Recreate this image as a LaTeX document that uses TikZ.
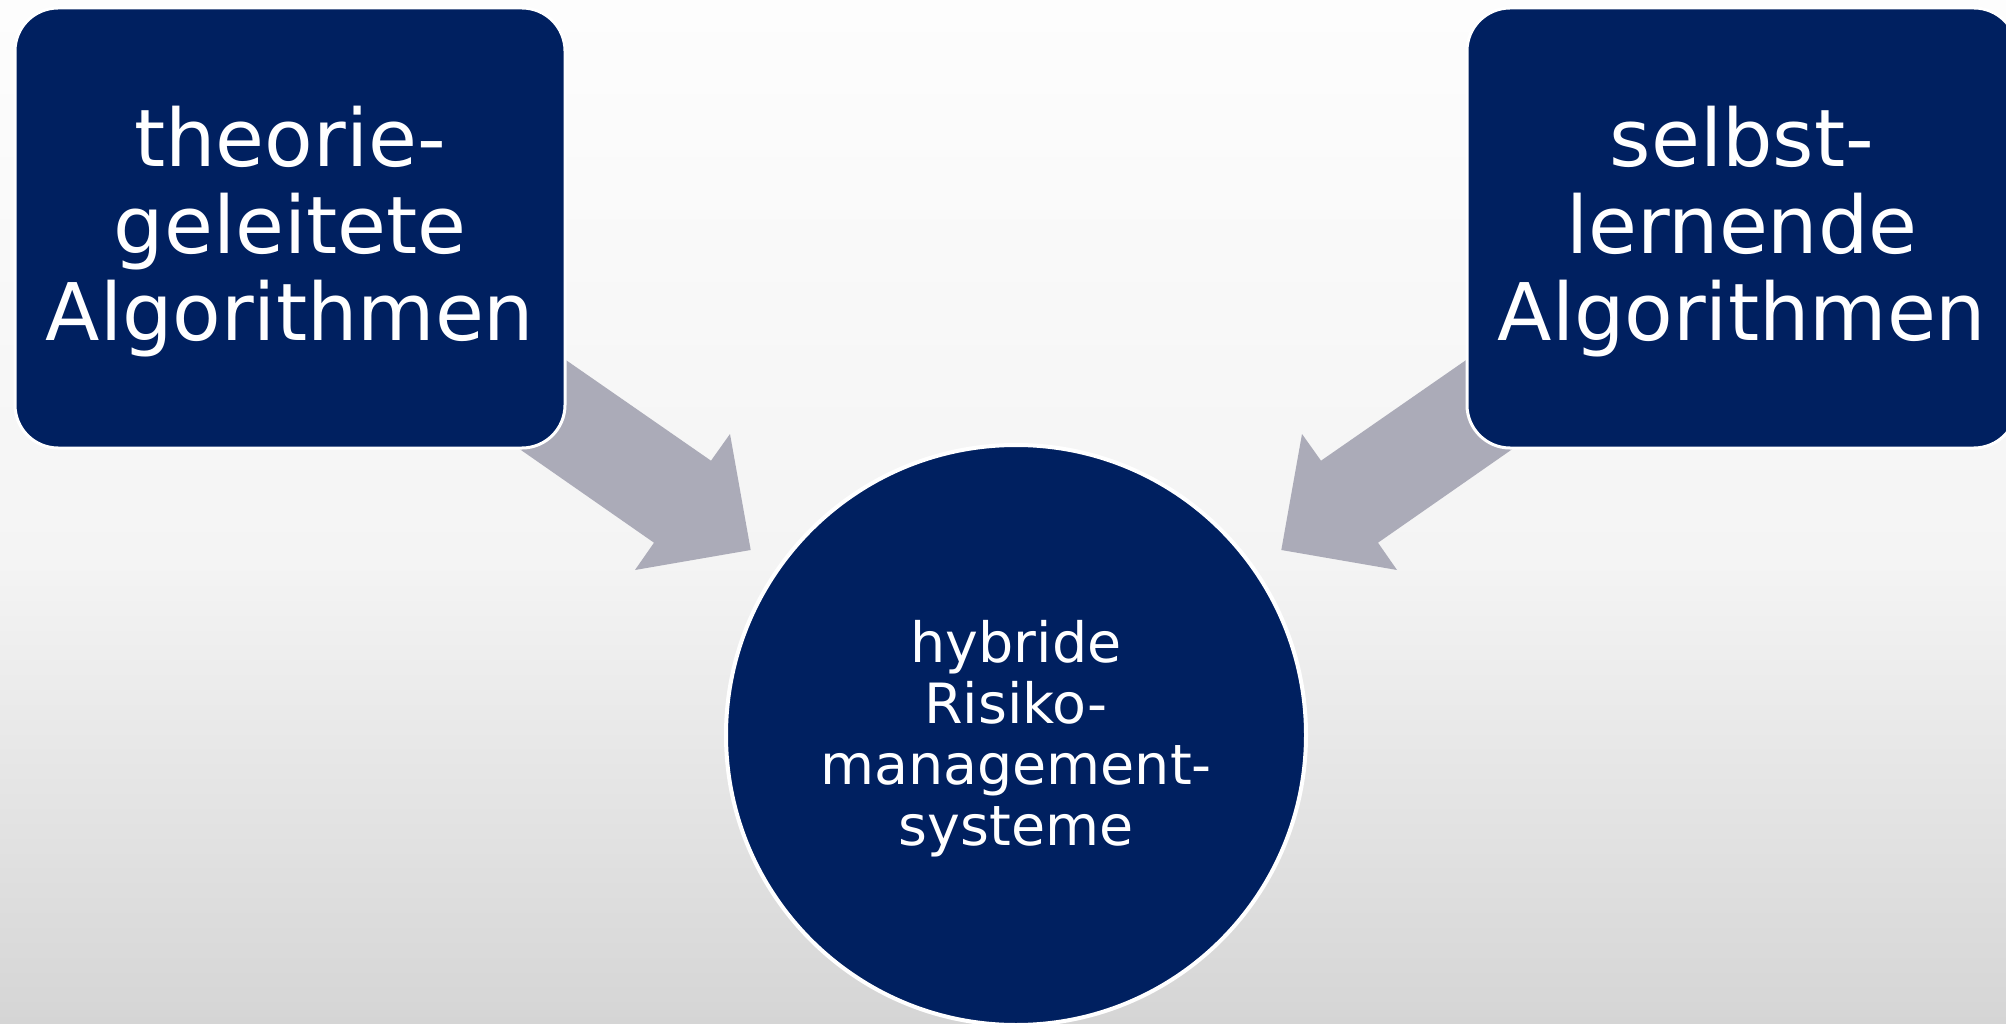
\documentclass[tikz,border=0pt]{standalone}
\usepackage{fontspec}
\setmainfont{DejaVu Sans}
\definecolor{navy}{RGB}{0,32,96}
\definecolor{arrowgray}{RGB}{171,171,184}
\definecolor{bgtop}{RGB}{253,253,253}
\definecolor{bgmid}{RGB}{244,244,244}
\definecolor{bgbot}{RGB}{213,213,213}
\pgfdeclareverticalshading{bgshade}{100bp}{color(0bp)=(bgbot); color(25bp)=(bgbot); color(47.5bp)=(bgmid); color(75bp)=(bgtop); color(100bp)=(bgtop)}
\tikzset{
  algbox/.style={rectangle, rounded corners=43pt, fill=navy, draw=white, line width=3pt,
    minimum width=550pt, minimum height=440pt, inner sep=0pt},
  boxtext/.style={align=center, text=white, inner sep=0pt,
    font=\fontsize{79.5}{87}\selectfont},
  resultcircle/.style={circle, fill=navy, draw=white, line width=4pt, minimum size=580pt,
    inner sep=0pt},
  circletext/.style={align=center, text=white, inner sep=0pt,
    font=\fontsize{55.5}{61}\selectfont},
  blockarrow/.style={fill=arrowgray, draw=none}
}
\begin{document}
\begin{tikzpicture}[x=1pt,y=-1pt]
\useasboundingbox (0,0) rectangle (2006,1024);
\clip (0,0) rectangle (2006,1024);
\fill[shading=bgshade] (0,0) rectangle (2006,1024);
% block arrows (behind the shapes)
\fill[blockarrow] (488,306) -- (711,460.7) -- (730,434) -- (750.7,550) -- (635,570) -- (654,542.7) -- (442,395) -- cycle;
\fill[blockarrow] (1544,306) -- (1321,460.7) -- (1302,434) -- (1281.3,550) -- (1397,570) -- (1378,542.7) -- (1590,395) -- cycle;
% nodes
\node[algbox] (L) at (290,228) {};
\node[boxtext] (Lt) at ([yshift=-4pt]L.center) {theorie-\\geleitete\\Algorithmen};
\node[algbox] (R) at (1742,228) {};
\node[boxtext] (Rt) at ([yshift=-4pt]R.center) {selbst-\\lernende\\Algorithmen};
\node[resultcircle] (C) at (1016,735) {};
\node[circletext] (Ct) at ([yshift=-4pt]C.center) {hybride\\Risiko-\\management-\\systeme};
\end{tikzpicture}
\end{document}
